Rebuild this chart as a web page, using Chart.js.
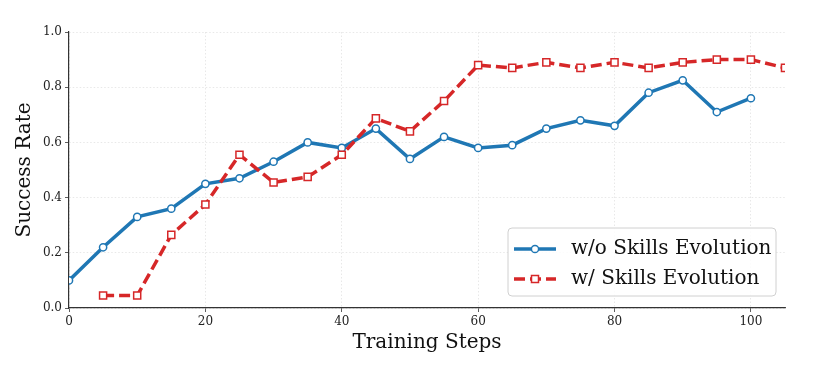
<!DOCTYPE html>
<html>
<head>
<meta charset="utf-8">
<script src="https://cdn.jsdelivr.net/npm/chart.js@4.4.1/dist/chart.umd.min.js"></script>
<style>
  html, body { margin: 0; padding: 0; background: #fff; }
  #wrap { width: 818px; height: 376px; }
</style>
</head>
<body>
<div id="wrap"><canvas id="chart" width="818" height="376"></canvas></div>
<script>
// data
const stepsNoEvo = [0, 5, 10, 15, 20, 25, 30, 35, 40, 45, 50, 55, 60, 65, 70, 75, 80, 85, 90, 95, 100];
const rateNoEvo = [0.10, 0.22, 0.33, 0.36, 0.45, 0.47, 0.53, 0.60, 0.58, 0.65, 0.54, 0.62, 0.58, 0.59, 0.65, 0.68, 0.66, 0.78, 0.825, 0.71, 0.76];
const stepsEvo = [5, 10, 15, 20, 25, 30, 35, 40, 45, 50, 55, 60, 65, 70, 75, 80, 85, 90, 95, 100, 105];
const rateEvo = [0.045, 0.045, 0.265, 0.375, 0.555, 0.455, 0.475, 0.555, 0.687, 0.64, 0.75, 0.88, 0.87, 0.89, 0.87, 0.89, 0.87, 0.89, 0.90, 0.90, 0.87];
const xTicks = [0, 20, 40, 60, 80, 100];
const yTicks = [0, 0.2, 0.4, 0.6, 0.8, 1.0];
const labelNoEvo = "w/o Skills Evolution";
const labelEvo = "w/ Skills Evolution";

const BLUE = "#1f77b4";
const RED = "#d62728";
const SERIF = "'DejaVu Serif', serif";

const toPoints = (xs, ys) => xs.map((x, i) => ({ x: x, y: ys[i] }));

// legend drawn inside the plot, lower right like matplotlib
const insideLegend = {
  id: "insideLegend",
  afterDraw(chart) {
    const ctx = chart.ctx;
    const area = chart.chartArea;
    const w = 268, h = 68;
    const x0 = area.right - 9 - w;
    const y0 = area.bottom - 12 - h;

    ctx.save();
    ctx.beginPath();
    ctx.roundRect(x0, y0, w, h, 4);
    ctx.fillStyle = "rgba(255,255,255,0.85)";
    ctx.fill();
    ctx.strokeStyle = "#d0d0d0";
    ctx.lineWidth = 1;
    ctx.stroke();

    const rows = [
      { label: labelNoEvo, color: BLUE, dash: [], marker: "circle" },
      { label: labelEvo, color: RED, dash: [11, 5], marker: "rect" },
    ];
    rows.forEach((r, i) => {
      const cy = y0 + 21 + i * 30;
      ctx.beginPath();
      ctx.setLineDash(r.dash);
      ctx.strokeStyle = r.color;
      ctx.lineWidth = 3.5;
      ctx.moveTo(x0 + 6, cy);
      ctx.lineTo(x0 + 48, cy);
      ctx.stroke();
      ctx.setLineDash([]);
      ctx.lineWidth = 1.5;
      ctx.fillStyle = "#fff";
      ctx.beginPath();
      if (r.marker === "circle") {
        ctx.arc(x0 + 27, cy, 3.6, 0, Math.PI * 2);
      } else {
        ctx.rect(x0 + 27 - 3.5, cy - 3.5, 7, 7);
      }
      ctx.fill();
      ctx.stroke();

      ctx.fillStyle = "#111";
      ctx.font = "20px " + SERIF;
      ctx.textBaseline = "middle";
      ctx.textAlign = "left";
      ctx.fillText(r.label, x0 + 63, cy);
    });
    ctx.restore();
  }
};

new Chart(document.getElementById("chart"), {
  type: "line",
  data: {
    datasets: [
      {
        label: labelNoEvo,
        data: toPoints(stepsNoEvo, rateNoEvo),
        borderColor: BLUE,
        borderWidth: 3.5,
        pointStyle: "circle",
        pointRadius: 3.6,
        pointBorderWidth: 1.5,
        pointBorderColor: BLUE,
        pointBackgroundColor: "#fff",
        tension: 0,
        fill: false,
        order: 2,
      },
      {
        label: labelEvo,
        data: toPoints(stepsEvo, rateEvo),
        borderColor: RED,
        borderWidth: 3.5,
        borderDash: [11, 5],
        pointStyle: "rect",
        pointRadius: 5,
        pointBorderWidth: 1.5,
        pointBorderColor: RED,
        pointBackgroundColor: "#fff",
        tension: 0,
        fill: false,
        order: 1,
      },
    ],
  },
  options: {
    responsive: false,
    animation: false,
    layout: { padding: { top: 32, right: 33, left: 0, bottom: 0 } },
    plugins: {
      legend: { display: false },
      tooltip: { enabled: false },
    },
    scales: {
      x: {
        type: "linear",
        min: 0,
        max: 105,
        afterBuildTicks: (scale) => {
          scale.ticks = xTicks.map((v) => ({ value: v }));
        },
        afterFit: (scale) => {
          scale.height = 68;
        },
        ticks: {
          color: "#222",
          font: { family: SERIF, size: 12 },
          padding: 3,
          maxRotation: 0,
        },
        grid: {
          color: "#e2e2e2",
          lineWidth: 0.8,
          tickColor: "#333",
          tickLength: 4,
        },
        border: { color: "#333", width: 1.2, dash: [1.5, 2] },
        title: {
          display: true,
          text: "Training Steps",
          color: "#111",
          font: { family: SERIF, size: 20 },
          padding: { top: 0, bottom: 21 },
        },
      },
      y: {
        type: "linear",
        min: 0,
        max: 1,
        afterBuildTicks: (scale) => {
          scale.ticks = yTicks.map((v) => ({ value: v }));
        },
        afterFit: (scale) => {
          scale.width = 69;
        },
        ticks: {
          color: "#222",
          font: { family: SERIF, size: 12 },
          padding: 3,
          callback: (v) => Number(v).toFixed(1),
        },
        grid: {
          color: "#e2e2e2",
          lineWidth: 0.8,
          tickColor: "#333",
          tickLength: 4,
        },
        border: { color: "#333", width: 1.2, dash: [1.5, 2] },
        title: {
          display: true,
          text: "Success Rate",
          color: "#111",
          font: { family: SERIF, size: 20 },
          padding: { top: 13, bottom: 0 },
        },
      },
    },
  },
  plugins: [insideLegend],
});
</script>
</body>
</html>
